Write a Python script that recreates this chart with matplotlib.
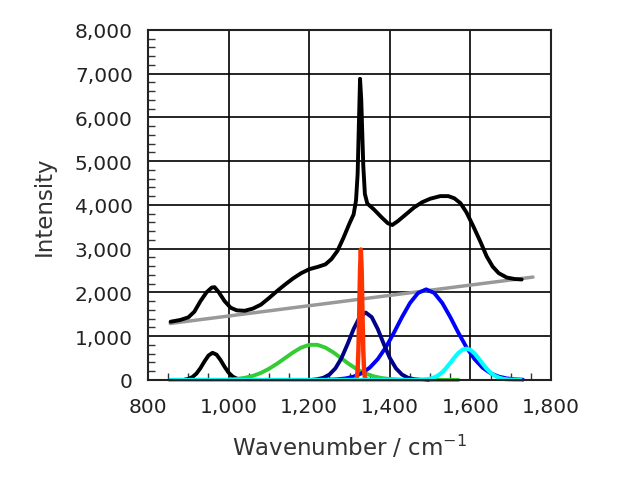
import matplotlib.pyplot as plt
from matplotlib.ticker import MultipleLocator, StrMethodFormatter

# measured spectrum (sum of fit)
total_x = [856, 880, 900, 915, 930, 945, 958, 965, 975, 990, 1005, 1020, 1040, 1060, 1080,
           1100, 1120, 1140, 1160, 1180, 1200, 1220, 1240, 1255, 1270, 1285, 1300, 1310,
           1316, 1320, 1323, 1326, 1329, 1331, 1334, 1338, 1344, 1360, 1380, 1395, 1406,
           1420, 1442, 1460, 1480, 1500, 1525, 1545, 1560, 1575, 1590, 1607, 1625, 1640,
           1655, 1670, 1690, 1710, 1727]
total_y = [1330, 1370, 1430, 1560, 1800, 2000, 2110, 2120, 2010, 1800, 1650, 1590, 1580,
           1630, 1720, 1870, 2030, 2180, 2320, 2440, 2530, 2580, 2640, 2760, 2950, 3250,
           3580, 3780, 4100, 4700, 5800, 6880, 6400, 5800, 4900, 4250, 4030, 3900, 3710,
           3580, 3540, 3630, 3800, 3940, 4060, 4140, 4200, 4200, 4150, 4040, 3830, 3510,
           3150, 2826, 2590, 2440, 2340, 2305, 2295]

# linear background
base_x = [855, 1755]
base_y = [1290, 2350]

# fitted components
p1_x = [890, 900, 910, 920, 930, 940, 950, 960, 970, 980, 990, 1000, 1010, 1020, 1040]
p1_y = [5, 25, 65, 144, 269, 423, 558, 620, 578, 453, 299, 166, 77, 30, 0]

p2_x = [1000, 1020, 1040, 1060, 1080, 1100, 1120, 1140, 1160, 1180, 1200, 1220, 1240,
        1260, 1280, 1300, 1320, 1340, 1360, 1380, 1400, 1420, 1440, 1570]
p2_y = [9, 22, 48, 92, 160, 255, 370, 500, 630, 739, 802, 802, 739, 628, 491, 354, 236,
        145, 82, 43, 20, 9, 0, 0]

p3_x = [1310, 1316, 1318, 1320, 1322, 1324, 1326, 1328, 1330, 1332, 1334, 1336, 1338, 1340, 1346]
p3_y = [0, 10, 50, 218, 685, 1550, 2530, 2980, 2530, 1550, 685, 218, 50, 10, 0]

p4_x = [855, 1205, 1220, 1235, 1250, 1265, 1280, 1295, 1310, 1325, 1340, 1355, 1370, 1385,
        1400, 1415, 1430, 1445, 1460, 1475, 1495]
p4_y = [0, 0, 17, 49, 123, 266, 500, 818, 1162, 1435, 1540, 1435, 1162, 818, 500, 266, 123,
        49, 17, 5, 0]

p5_x = [855, 1230, 1250, 1270, 1290, 1310, 1330, 1350, 1370, 1390, 1410, 1430, 1450, 1470,
        1490, 1510, 1530, 1550, 1570, 1590, 1610, 1630, 1650, 1670, 1690, 1710, 1730]
p5_y = [0, 0, 6, 15, 35, 76, 152, 280, 476, 746, 1077, 1434, 1758, 1987, 2070, 1987, 1758,
        1434, 1077, 746, 476, 280, 152, 76, 35, 15, 6]

p6_x = [855, 1480, 1490, 1500, 1510, 1520, 1530, 1540, 1550, 1560, 1570, 1580, 1590, 1600,
        1610, 1620, 1630, 1640, 1650, 1660, 1670, 1680, 1690, 1700, 1712, 1725]
p6_y = [0, 0, 12, 28, 56, 104, 176, 275, 390, 510, 615, 690, 715, 686, 607, 495, 372, 258,
        165, 97, 52, 26, 12, 5, 2, 0]

fig = plt.figure(figsize=(6.22, 4.89), dpi=100)
ax = fig.add_axes([0.238, 0.221, 0.648, 0.716])

kw = dict(solid_joinstyle='round', solid_capstyle='round', clip_on=False)
ax.plot(base_x, base_y, color='#999999', lw=2.5, **kw)
ax.plot(total_x, total_y, color='k', lw=2.8, **kw)
ax.plot(p1_x, p1_y, color='k', lw=2.8, **kw)
ax.plot(p2_x, p2_y, color='#33cc33', lw=2.8, **kw)
ax.plot(p5_x, p5_y, color='#0000ff', lw=2.8, **kw)
ax.plot(p4_x, p4_y, color='#000088', lw=2.8, **kw)
ax.plot(p3_x, p3_y, color='#ff3300', lw=3.2, **kw)
ax.plot(p6_x, p6_y, color='#00ffff', lw=3.0, **kw)

ax.set_xlim(800, 1800)
ax.set_ylim(0, 8000)
ax.xaxis.set_major_locator(MultipleLocator(200))
ax.xaxis.set_minor_locator(MultipleLocator(50))
ax.yaxis.set_major_locator(MultipleLocator(1000))
ax.yaxis.set_minor_locator(MultipleLocator(200))
ax.xaxis.set_major_formatter(StrMethodFormatter('{x:,.0f}'))
ax.yaxis.set_major_formatter(StrMethodFormatter('{x:,.0f}'))
ax.tick_params(which='major', length=0, labelsize=14.5, colors='#222222')
ax.tick_params(axis='x', which='major', pad=12)
ax.tick_params(axis='y', which='major', pad=11)
ax.tick_params(which='minor', direction='in', length=5, width=1, color='#333333',
               top=False, right=False)
ax.grid(True, which='major', color='k', lw=1.2)
ax.set_axisbelow(True)
for s in ax.spines.values():
    s.set_color('#222222')
    s.set_linewidth(1.5)

ax.set_xlabel('Wavenumber / cm$^{-1}$', fontsize=16.5, labelpad=12, color='#333333')
ax.set_ylabel('Intensity', fontsize=16.5, labelpad=14, color='#333333')

fig.savefig('out.png')
